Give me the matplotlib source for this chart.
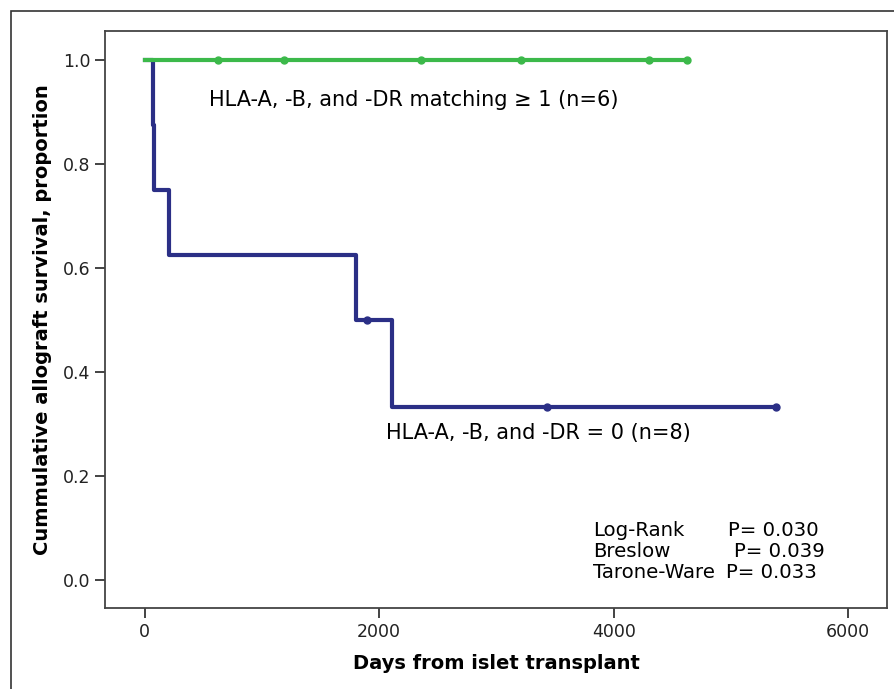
import matplotlib.pyplot as plt
from matplotlib.patches import Rectangle

# Kaplan-Meier data
# HLA match = 0 group (n=8): event times and survival after each step
blue_times = [0, 68, 76, 205, 1800, 2107, 5380]
blue_surv = [1.0, 0.875, 0.75, 0.625, 0.5, 0.333, 0.333]
blue_cens_t = [1900, 3430, 5380]
blue_cens_s = [0.5, 0.333, 0.333]

# HLA match >= 1 group (n=6): no events, all censored
green_times = [0, 4623]
green_surv = [1.0, 1.0]
green_cens_t = [623, 1186, 2354, 3207, 4298, 4623]
green_cens_s = [1.0, 1.0, 1.0, 1.0, 1.0, 1.0]

tests = ["Log-Rank", "Breslow", "Tarone-Ware"]
pvals = ["P= 0.030", "P= 0.039", "P= 0.033"]

blue = "#2b2f86"
green = "#3cb94a"

plt.rcParams['font.family'] = ['DejaVu Sans']

fig = plt.figure(figsize=(8.95, 6.89), dpi=100)
ax = fig.add_axes([0.1173, 0.1176, 0.8737, 0.8374])

# outer frame of the figure
fig.patches.append(Rectangle((11 / 895, -0.5), 2, 1.5 - 11 / 689, transform=fig.transFigure,
                             fill=False, edgecolor="#333333", linewidth=1.2))

ax.step(blue_times, blue_surv, where='post', color=blue, linewidth=3, zorder=2)
ax.plot(blue_cens_t, blue_cens_s, 'o', color=blue, markersize=5, zorder=3)
ax.step(green_times, green_surv, where='post', color=green, linewidth=3, zorder=4)
ax.plot(green_cens_t, green_cens_s, 'o', color=green, markersize=5, zorder=5)

ax.set_xlim(-338, 6330)
ax.set_ylim(-0.054, 1.056)
ax.set_xticks([0, 2000, 4000, 6000])
ax.set_yticks([0.0, 0.2, 0.4, 0.6, 0.8, 1.0])
ax.set_yticklabels(["0.0", "0.2", "0.4", "0.6", "0.8", "1.0"])
ax.tick_params(direction='out', length=7, width=1.2, labelsize=12.5, colors="#222222")
for s in ax.spines.values():
    s.set_color("#444444")
    s.set_linewidth(1.3)

ax.set_xlabel("Days from islet transplant", fontsize=14, fontweight='bold', labelpad=10)
ax.set_ylabel("Cummulative allograft survival, proportion", fontsize=14, fontweight='bold', labelpad=8)

ax.text(546, 0.923, "HLA-A, -B, and -DR matching \u2265 1 (n=6)", fontsize=15, va='center')
ax.text(2055, 0.283, "HLA-A, -B, and -DR = 0 (n=8)", fontsize=15, va='center')

p_x = [4972, 5023, 4960]
for i in range(3):
    y = 0.096 - i * 0.0413
    ax.text(3821, y, tests[i], fontsize=14.2, va='center')
    ax.text(p_x[i], y, pvals[i], fontsize=14.2, va='center')

fig.savefig("out.png", dpi=100)
